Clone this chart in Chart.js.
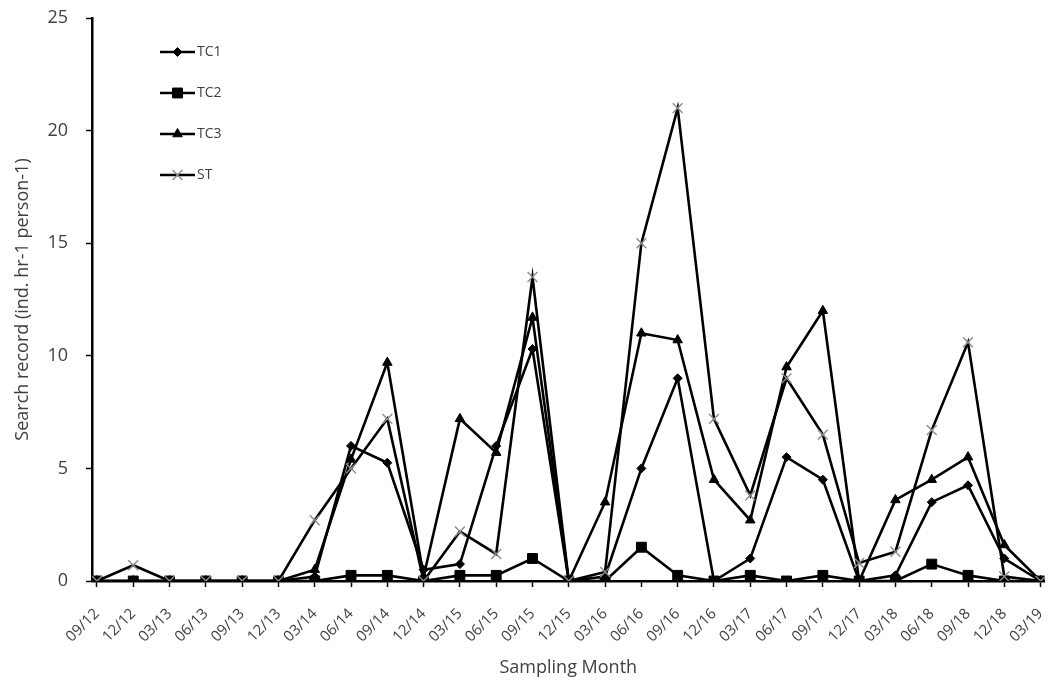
<!DOCTYPE html>
<html>
<head>
<meta charset="utf-8">
<title>Search record</title>
<script src="https://cdn.jsdelivr.net/npm/chart.js@4/dist/chart.umd.min.js"></script>
<style>
  html, body { margin: 0; padding: 0; background: #fff; }
  #wrap { width: 1053px; height: 686px; }
</style>
</head>
<body>
<div id="wrap"><canvas id="chart" width="1053" height="686"></canvas></div>
<script>
const MONTHS = [
  "09/12", "12/12", "03/13", "06/13", "09/13", "12/13", "03/14", "06/14", "09/14",
  "12/14", "03/15", "06/15", "09/15", "12/15", "03/16", "06/16", "09/16", "12/16",
  "03/17", "06/17", "09/17", "12/17", "03/18", "06/18", "09/18", "12/18", "03/19",
];

const TC1 = [0, 0, 0, 0, 0, 0, 0.2, 6.0, 5.25, 0.5, 0.75, 6.0, 10.3, 0, 0.2, 5.0, 9.0, 0, 1.0, 5.5, 4.5, 0, 0.25, 3.5, 4.25, 1.0, 0];
const TC2 = [0, 0, 0, 0, 0, 0, 0, 0.25, 0.25, 0, 0.25, 0.25, 1.0, 0, 0, 1.5, 0.25, 0, 0.25, 0, 0.25, 0, 0, 0.75, 0.25, 0, 0];
const TC3 = [0, 0, 0, 0, 0, 0, 0.5, 5.4, 9.7, 0.2, 7.2, 5.7, 11.7, 0, 3.5, 11.0, 10.7, 4.5, 2.7, 9.5, 12.0, 0, 3.6, 4.5, 5.5, 1.6, 0];
const ST = [0, 0.7, 0, 0, 0, 0, 2.7, 5.0, 7.2, 0, 2.2, 1.2, 13.5, 0, 0.4, 15.0, 21.0, 7.2, 3.8, 9.0, 6.5, 0.8, 1.3, 6.7, 10.6, 0.2, 0];

const Y_TICKS = [0, 5, 10, 15, 20, 25];

const FONT = "'Open Sans', 'Noto Sans', sans-serif";
const TEXT_COLOR = "#404040";

// marker look per series
const SERIES = [
  { label: "TC1", values: TC1, style: "rectRot", radius: 4.5, fill: "#000", stroke: "#000", order: 3 },
  { label: "TC2", values: TC2, style: "rect", radius: 7, fill: "#000", stroke: "#000", order: 2 },
  { label: "TC3", values: TC3, style: "triangle", radius: 5.5, fill: "#000", stroke: "#000", order: 1 },
  { label: "ST", values: ST, style: "crossRot", radius: 7, fill: "#8c8c8c", stroke: "#8c8c8c", order: 0 },
];

const toPoints = (arr) => arr.map((v, i) => ({ x: i, y: v }));

// legend drawn inside the plot, stacked vertically like the original
const insideLegend = {
  id: "insideLegend",
  afterDraw(chart) {
    const ctx = chart.ctx;
    const x0 = 160, x1 = 195, top = 52, gap = 41;
    ctx.save();
    SERIES.forEach((s, i) => {
      const y = top + i * gap;
      ctx.strokeStyle = "#000";
      ctx.lineWidth = 2.5;
      ctx.beginPath();
      ctx.moveTo(x0, y);
      ctx.lineTo(x1, y);
      ctx.stroke();
      ctx.fillStyle = s.fill;
      ctx.strokeStyle = s.stroke;
      ctx.lineWidth = s.style === "crossRot" ? 1.4 : 1;
      Chart.helpers.drawPoint(ctx, { pointStyle: s.style, radius: s.radius, rotation: 0, borderWidth: ctx.lineWidth }, (x0 + x1) / 2, y);
      ctx.fillStyle = TEXT_COLOR;
      ctx.font = `14px ${FONT}`;
      ctx.textBaseline = "middle";
      ctx.textAlign = "left";
      ctx.fillText(s.label, x1 + 2, y);
    });
    ctx.restore();
  },
};

function buildDatasets() {
  return SERIES.map((s) => ({
    label: s.label,
    data: toPoints(s.values),
    borderColor: "#000",
    borderWidth: 2.6,
    pointStyle: s.style,
    pointRadius: s.radius,
    pointBackgroundColor: s.fill,
    pointBorderColor: s.stroke,
    pointBorderWidth: s.style === "crossRot" ? 1.4 : 1,
    tension: 0,
    order: s.order,
  }));
}

function initChart() {
  const ctx = document.getElementById("chart").getContext("2d");
  new Chart(ctx, {
    type: "line",
    data: { datasets: buildDatasets() },
    plugins: [insideLegend],
    options: {
      responsive: false,
      animation: false,
      devicePixelRatio: 1,
      layout: { padding: { top: 18, right: 0, left: 0, bottom: 0 } },
      plugins: {
        legend: { display: false },
        tooltip: { enabled: false },
      },
      scales: {
        x: {
          type: "linear",
          min: -0.137,
          max: 26.11,
          afterFit: (scale) => {
            scale.height = 105;
            scale.paddingLeft = 0;
            scale.paddingRight = 0;
          },
          afterBuildTicks: (scale) => {
            scale.ticks = MONTHS.map((_, i) => ({ value: i }));
          },
          border: { display: true, color: "#000", width: 2.5 },
          grid: { drawOnChartArea: false, drawTicks: true, tickLength: 6, tickColor: "#000", tickWidth: 1.5 },
          ticks: {
            autoSkip: false,
            minRotation: 45,
            maxRotation: 45,
            padding: 18,
            color: TEXT_COLOR,
            font: { family: FONT, size: 15 },
            callback: (v) => MONTHS[v],
          },
          title: {
            display: true,
            text: "Sampling Month",
            color: TEXT_COLOR,
            font: { family: FONT, size: 18 },
            padding: { top: 0, bottom: 7 },
          },
        },
        y: {
          min: 0,
          max: 25,
          afterFit: (scale) => {
            scale.width = 92;
            scale.paddingTop = 0;
            scale.paddingBottom = 0;
          },
          afterBuildTicks: (scale) => {
            scale.ticks = Y_TICKS.map((v) => ({ value: v }));
          },
          border: { display: true, color: "#000", width: 2.5 },
          grid: { drawOnChartArea: false, drawTicks: true, tickLength: 6, tickColor: "#000", tickWidth: 1.5 },
          ticks: {
            padding: 18,
            color: TEXT_COLOR,
            font: { family: FONT, size: 18 },
          },
          title: {
            display: true,
            text: "Search record (ind. hr-1 person-1)",
            color: TEXT_COLOR,
            font: { family: FONT, size: 18 },
            padding: { top: 12, bottom: 0 },
          },
        },
      },
    },
  });
}

document.addEventListener("DOMContentLoaded", initChart);
</script>
</body>
</html>
